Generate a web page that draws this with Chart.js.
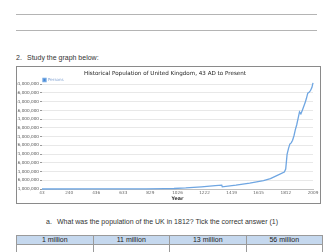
<!DOCTYPE html>
<html><head><meta charset="utf-8">
<script src="https://cdn.jsdelivr.net/npm/chart.js@4"></script>
<style>
html,body{margin:0;padding:0;background:#fff;width:336px;height:252px;overflow:hidden;font-family:"Liberation Sans",Arial,sans-serif;color:#333;}
.hl{position:absolute;left:16px;width:301px;height:1px;background:#b4b4b4;}
.txt{position:absolute;font-size:7px;line-height:8px;white-space:nowrap;}
#box{position:absolute;left:16px;top:66px;width:303px;height:136px;border:1px solid #8a8a8a;}
#box canvas{display:block}
table{position:absolute;left:16px;top:235px;width:307px;border-collapse:collapse;font-size:7px;table-layout:fixed;}
td{border:1px solid #9a9a9a;text-align:center;height:8px;padding:0;line-height:8px;color:#222}
tr.h td{background:#c5d8ee}
</style></head>
<body>
<div class="hl" style="top:14px"></div>
<div class="hl" style="top:30px"></div>
<div class="txt" style="left:16px;top:54px">2.</div>
<div class="txt" style="left:27px;top:54px">Study the graph below:</div>
<div id="box"><canvas id="c" width="303" height="136"></canvas></div>
<div class="txt" style="left:46px;top:218px">a.</div>
<div class="txt" style="left:57px;top:218px">What was the population of the UK in 1812? Tick the correct answer (1)</div>
<table id="t"><tr class="h"></tr><tr class="b"></tr></table>
<script>
const chartTitle = "Historical Population of United Kingdom, 43 AD to Present";
const seriesName = "Persons";
const years = [43, 400, 800, 935, 1000, 1086, 1200, 1300, 1347, 1351, 1450, 1550, 1650, 1700, 1750, 1801, 1811, 1821, 1831, 1841, 1851, 1861, 1871, 1881, 1891, 1901, 1911, 1921, 1931, 1951, 1961, 1971, 1981, 1991, 2001, 2009];
const populationMillions = [1.0, 1.1, 1.1, 1.2, 1.3, 1.6, 2.2, 2.9, 3.2, 2.2, 3.2, 4.4, 5.8, 7.0, 8.8, 10.7, 12.4, 20.8, 24.1, 26.7, 27.4, 28.9, 31.5, 35.0, 37.8, 41.5, 45.2, 44.0, 46.0, 50.2, 52.8, 55.9, 56.4, 57.4, 59.1, 61.8];
const xTickLabels = [43, 240, 436, 633, 829, 1026, 1222, 1419, 1615, 1812, 2009];
const yTickLabels = [1000000, 6000000, 11000000, 16000000, 21000000, 26000000, 31000000, 36000000, 41000000, 46000000, 51000000, 56000000, 61000000];
const answers = ["1 million", "11 million", "13 million", "56 million"];

const hr = document.querySelector('#t tr.h'), br = document.querySelector('#t tr.b');
answers.forEach(a => { const td = document.createElement('td'); td.textContent = a; hr.appendChild(td); br.appendChild(document.createElement('td')); });

const points = years.map((y, i) => ({x: y, y: populationMillions[i] * 1000000}));
const tickFont = {family: "DejaVu Sans", size: 4.2};
const legendOverPlot = {
  id: 'legendOverPlot',
  afterLayout(chart) {
    const lg = chart.legend, ca = chart.chartArea;
    lg.top = ca.top - 5.5;
    lg.bottom = ca.bottom;
    lg.left = ca.left;
  }
};
new Chart(document.getElementById('c'), {
  type: 'line',
  data: {datasets: [{label: seriesName, data: points, borderColor: '#6fa6e2', backgroundColor: '#3a7ad0', borderWidth: 1.3, pointRadius: 0, tension: 0}]},
  plugins: [legendOverPlot],
  options: {
    responsive: false, animation: false, devicePixelRatio: 1,
    layout: {padding: {left: 0, right: 7, top: 0, bottom: 0}},
    plugins: {
      title: {display: true, text: chartTitle, color: '#222', font: {family: "DejaVu Sans", size: 5.6, weight: 'normal', lineHeight: 1.2}, padding: {top: 3, bottom: 5.78}},
      legend: {position: 'chartArea', align: 'start', labels: {boxWidth: 3, boxHeight: 3, padding: 1, color: '#7d9fd0', font: {family: "DejaVu Sans", size: 4}}},
      tooltip: {enabled: false}
    },
    clip: 2,
    scales: {
      x: {type: 'linear', min: 43, max: 2009,
        afterBuildTicks: s => { s.ticks = xTickLabels.map(v => ({value: v})); },
        afterFit: s => { s.height = 14; },
        grid: {display: false, drawTicks: false},
        border: {display: true, color: '#c0c0c0'},
        ticks: {font: tickFont, color: '#666', padding: 1.5, maxRotation: 0, autoSkip: false, callback: v => String(v)},
        title: {display: true, text: 'Year', color: '#333', font: {family: "DejaVu Sans", size: 4.8, weight: 'bold'}, padding: {top: 0, bottom: 1}}
      },
      y: {min: 1000000, max: 62000000,
        afterBuildTicks: s => { s.ticks = yTickLabels.map(v => ({value: v})); },
        afterFit: s => { s.width = 25; },
        grid: {color: '#e8e8e8', tickColor: '#999', tickLength: 2},
        border: {display: false},
        ticks: {font: tickFont, color: '#555', padding: 1, autoSkip: false, callback: v => v.toLocaleString('en-US')}
      }
    }
  }
});
</script>
</body></html>
